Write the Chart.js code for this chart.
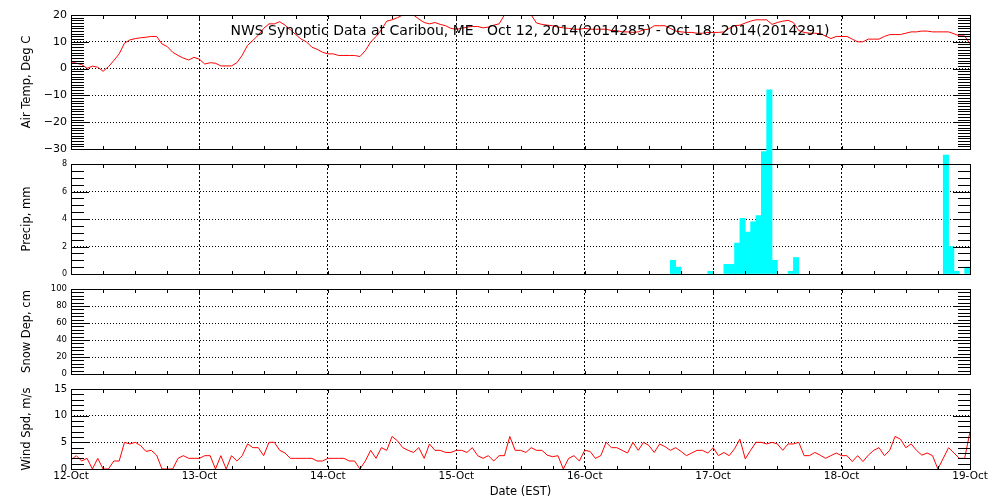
<!DOCTYPE html>
<html>
<head>
<meta charset="utf-8">
<title>NWS Synoptic Data at Caribou, ME</title>
<script src="https://cdn.jsdelivr.net/npm/chart.js@4.4.1/dist/chart.umd.min.js"></script>
<style>
  html, body { margin: 0; padding: 0; background: #fff; }
  #wrap { position: relative; width: 1000px; height: 500px; }
  #wrap canvas { position: absolute; left: 0; top: 0; }
</style>
</head>
<body>
<div id="wrap">
  <canvas id="canvas_temp" width="1000" height="500"></canvas>
  <canvas id="canvas_precip" width="1000" height="500"></canvas>
  <canvas id="canvas_snow" width="1000" height="500"></canvas>
  <canvas id="canvas_wind" width="1000" height="500"></canvas>
</div>
<script>
var title = 'NWS Synoptic Data at Caribou, ME   Oct 12, 2014(2014285) - Oct 18, 2014(2014291)';
// x axis is hours since 12-Oct 00:00 EST, one label per day
var dayLabels = ['12-Oct', '13-Oct', '14-Oct', '15-Oct', '16-Oct', '17-Oct', '18-Oct', '19-Oct'];

// hourly air temp, deg C (hour 0..168)
var airTemp = [
  2.6, 2.0, 1.5, 0.1, 0.9, 0.5, -1.0, 0.7, 3.0, 5.5,
  9.5, 10.7, 11.2, 11.5, 11.7, 12.0, 12.0, 9.2, 8.2, 6.1,
  4.9, 3.9, 3.2, 4.2, 3.5, 1.7, 2.2, 2.0, 1.0, 1.0,
  1.0, 2.2, 5.0, 8.7, 10.5, 12.5, 15.0, 16.7, 16.7, 17.5,
  16.2, 14.5, 12.7, 11.0, 10.0, 8.0, 7.2, 6.1, 5.5, 5.5,
  4.9, 4.9, 4.9, 4.9, 4.5, 6.7, 9.9, 12.0, 14.5, 17.7,
  18.2, 19.0, 20.0, 21.0, 20.0, 18.5, 17.2, 16.7, 17.2, 16.5,
  16.0, 15.0, 14.7, 15.0, 15.5, 15.7, 15.7, 15.2, 15.5, 16.2,
  16.7, 20.0, 21.5, 22.0, 22.0, 21.5, 20.0, 17.0, 16.5, 16.2,
  16.0, 15.5, 15.2, 15.0, 14.7, 14.7, 15.0, 14.7, 14.7, 14.7,
  14.7, 14.2, 14.2, 13.7, 13.7, 13.5, 13.7, 14.5, 14.7, 16.0,
  16.0, 16.0, 15.0, 14.0, 13.7, 13.5, 13.5, 13.2, 13.2, 13.5,
  13.5, 13.5, 13.7, 15.0, 16.0, 16.2, 17.0, 17.7, 18.2, 18.2,
  18.2, 16.5, 17.2, 17.7, 18.0, 17.2, 14.2, 13.5, 13.2, 13.2,
  13.0, 12.2, 11.2, 12.0, 12.0, 12.0, 11.0, 10.0, 10.0, 11.0,
  11.0, 11.0, 12.0, 12.7, 12.7, 12.7, 13.2, 13.7, 13.7, 14.0,
  14.0, 13.7, 13.7, 13.7, 13.7, 13.0, 12.2, 12.2, 9.2
];

// hourly precip, mm (only the hours with rain)
var precipHour = [112, 113, 119, 122, 123, 124, 125, 126, 127, 128, 129, 130, 131, 134, 135, 163, 164, 165, 167];
var precipMm   = [1.0, 0.5, 0.2, 0.7, 0.7, 2.25, 4.05, 3.05, 3.8, 4.25, 8.9, 13.4, 1.0, 0.2, 1.2, 8.65, 2.0, 0.2, 0.5];

// no snow on the ground
var snowDepth = [];

// hourly wind speed, m/s (hour 0..168)
var windSpd = [
  1.7, 2.5, 1.5, 2.0, 0, 2.0, 0, 0, 1.5, 1.5,
  5.0, 4.7, 5.0, 4.4, 3.3, 3.5, 2.6, 0, 0, 0,
  2.0, 2.5, 2.0, 2.0, 2.0, 2.5, 2.5, 0, 2.5, 0,
  2.5, 1.5, 2.5, 4.7, 4.0, 4.0, 2.5, 5.0, 5.0, 3.5,
  3.0, 2.0, 2.0, 2.0, 2.0, 2.0, 1.5, 1.5, 2.0, 2.0,
  2.0, 2.0, 1.5, 1.5, 0, 1.5, 3.5, 2.0, 4.0, 3.5,
  6.1, 5.3, 4.0, 3.5, 3.1, 4.0, 2.0, 4.7, 3.5, 3.5,
  3.1, 3.1, 3.5, 3.5, 3.1, 4.0, 2.5, 2.0, 2.5, 1.5,
  2.5, 2.5, 6.1, 3.5, 3.5, 3.1, 4.0, 3.5, 3.5, 2.6,
  2.3, 2.5, 0, 2.0, 2.5, 1.5, 3.5, 3.3, 2.0, 2.5,
  5.0, 4.0, 4.0, 3.5, 3.0, 5.0, 3.5, 5.0, 4.4, 3.1,
  4.7, 4.2, 3.5, 4.0, 3.3, 2.5, 3.0, 3.5, 3.5, 3.0,
  4.0, 2.5, 3.1, 2.5, 3.8, 5.6, 1.9, 3.5, 5.0, 5.0,
  4.7, 5.0, 4.7, 3.5, 4.7, 4.7, 5.0, 2.5, 2.5, 3.1,
  2.6, 2.0, 2.5, 3.0, 2.5, 2.5, 1.4, 2.5, 1.4, 2.6,
  3.5, 4.0, 2.5, 3.5, 6.1, 5.6, 4.0, 4.7, 3.5, 2.6,
  3.0, 2.5, 0, 2.0, 4.0, 3.0, 2.0, 2.0, 7.0
];

Chart.defaults.font.family = '"DejaVu Sans", sans-serif';
Chart.defaults.color = '#000';

// box round the plot + IDL style inward ticks (drawn as 1px rects)
var idlFrame = {
  id: 'idlFrame',
  afterDraw: function(chart, args, opts) {
    var ctx = chart.ctx, a = chart.chartArea;
    var xs = chart.scales.x, ys = chart.scales.y;
    var L = Math.round(a.left), R = Math.round(a.right);
    var T = Math.round(a.top), B = Math.round(a.bottom);
    var majors = ys.ticks.map(function(t){ return t.value; });
    ctx.save();
    ctx.fillStyle = '#000';
    for (var h = 6; h < 168; h += 6) {
      var px = Math.round(xs.getPixelForValue(h));
      ctx.fillRect(px, T, 1, 4);
      ctx.fillRect(px, B - 3, 1, 4);
    }
    var n = Math.round((ys.max - ys.min) / opts.minor);
    for (var k = 0; k <= n; k++) {
      var v = ys.min + k * opts.minor;
      var isMajor = majors.some(function(m){ return Math.abs(m - v) < 1e-6; });
      var py = Math.round(ys.getPixelForValue(v));
      var len = isMajor ? 18 : 13;
      ctx.fillRect(L, py, len, 1);
      ctx.fillRect(R - len + 1, py, len, 1);
    }
    ctx.fillRect(L, T, R - L + 1, 1);
    ctx.fillRect(L, B, R - L + 1, 1);
    ctx.fillRect(L, T, 1, B - T + 1);
    ctx.fillRect(R, T, 1, B - T + 1);
    ctx.restore();
  }
};

var idlTitle = {
  id: 'idlTitle',
  afterDatasetsDraw: function(chart) {
    var ctx = chart.ctx;
    ctx.save();
    ctx.font = '14px "DejaVu Sans"';
    ctx.fillStyle = '#000';
    ctx.textAlign = 'center';
    ctx.textBaseline = 'alphabetic';
    ctx.fillText(title, 530, 35);
    ctx.restore();
  }
};

function xAxis(showLabels) {
  return {
    type: 'linear', min: 0, max: 168, offset: false,
    ticks: {
      display: showLabels, stepSize: 24, maxRotation: 0, autoSkip: false, padding: 1,
      font: { size: 10.5 },
      callback: function(v) { return dayLabels[v / 24]; }
    },
    grid: { color: '#000', lineWidth: 1, drawTicks: false, offset: false },
    border: { display: false, dash: [2, 2] },
    title: { display: showLabels, text: 'Date (EST)', font: { size: 11.5 }, padding: { top: 0, bottom: 1 } },
    afterFit: function(s) { s.height = showLabels ? 31 : 0; }
  };
}

function yAxis(label, min, max, step, fontSize) {
  return {
    min: min, max: max,
    ticks: {
      stepSize: step, padding: 4, font: { size: fontSize },
      callback: function(v) { return v < 0 ? '\u2212' + (-v) : '' + v; }
    },
    grid: { color: '#000', lineWidth: 1, drawTicks: false },
    border: { display: false, dash: [1, 2] },
    title: { display: true, text: label, font: { size: 11.5 }, padding: { top: 20.5, bottom: 0 } },
    afterFit: function(s) { s.width = 71; }
  };
}

function drawPanel(id, type, datasets, y, padTop, padBottom, minor, showX, extra) {
  return new Chart(document.getElementById(id), {
    type: type,
    data: { datasets: datasets },
    options: {
      responsive: false,
      animation: false,
      events: [],
      layout: { padding: { left: 0, right: 30, top: padTop, bottom: padBottom } },
      scales: { x: xAxis(showX), y: y },
      plugins: {
        legend: { display: false },
        tooltip: { enabled: false },
        idlFrame: { minor: minor }
      }
    },
    plugins: [idlFrame].concat(extra || [])
  });
}

function lineSet(values) {
  return {
    data: values.map(function(v, i) { return { x: i, y: v }; }),
    borderColor: '#ff0000', borderWidth: 1, pointRadius: 0, tension: 0, fill: false
  };
}

drawPanel('canvas_temp', 'line', [lineSet(airTemp)],
  yAxis('Air Temp, Deg C', -30, 20, 10, 11), 15, 351, 1, false, [idlTitle]);

drawPanel('canvas_precip', 'bar', [{
    data: precipHour.map(function(h, i) { return { x: h + 0.5, y: precipMm[i] }; }),
    backgroundColor: '#00ffff', borderWidth: 0,
    barPercentage: 1, categoryPercentage: 1, clip: false
  }],
  yAxis('Precip, mm', 0, 8, 2, 8), 164, 226, 0.5, false);

drawPanel('canvas_snow', 'line', [lineSet(snowDepth)],
  yAxis('Snow Dep, cm', 0, 100, 20, 8.5), 289, 126, 4, false);

drawPanel('canvas_wind', 'line', [lineSet(windSpd)],
  yAxis('Wind Spd, m/s', 0, 15, 5, 10), 389, 0, 1, true);
</script>
</body>
</html>
